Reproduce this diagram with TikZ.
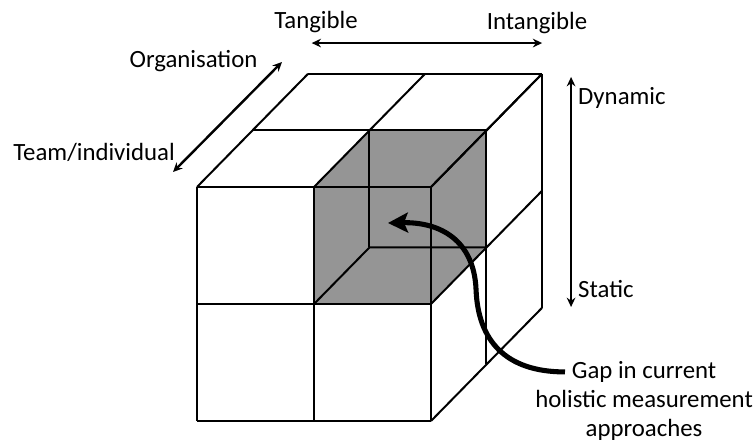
\documentclass[tikz,border=0pt]{standalone}
\usepackage{fontspec}
\setmainfont{Carlito}
\usetikzlibrary{positioning,arrows.meta}
\definecolor{hueco}{HTML}{959595}

\begin{document}
\begin{tikzpicture}[font=\fontsize{18.6}{21.8}\selectfont,
    x={(87.75pt,0pt)}, y={(0pt,87.75pt)}, z={(41.6pt,42.4pt)},
    edge/.style={line width=1.5pt, line join=round},
    axis/.style={line width=1.8pt, {Stealth[length=7pt,width=6.5pt]}-{Stealth[length=7pt,width=6.5pt]}},
    gaparrow/.style={line width=3.8pt, -{Stealth[length=15pt,width=15pt,inset=3pt]}}]
    \useasboundingbox (-1.684,-0.188) rectangle (4.769,3.598);
    % shaded cell (front, top, right)
    \fill[hueco] (1,1,0) -- (1,2,0) -- (1,2,1) -- (2,2,1) -- (2,1,1) -- (2,1,0) -- cycle;
    % 2x2x2 grid
    \foreach \i in {0,1,2} {
      \draw[edge] (\i,0,0) -- (\i,2,0);
      \draw[edge] (0,\i,0) -- (2,\i,0);
      \draw[edge] (0,2,\i) -- (2,2,\i);
      \draw[edge] (\i,2,0) -- (\i,2,2);
      \draw[edge] (2,\i,0) -- (2,\i,2);
      \draw[edge] (2,0,\i) -- (2,2,\i);
    }
    % hidden edges of the shaded cell
    \draw[edge] (1,1,0) -- (1,1,1) -- (2,1,1);
    \draw[edge] (1,1,1) -- (1,2,1);
    % axes
    \coordinate (tan) at (0.98,3.23);
    \coordinate (intan) at (2.95,3.23);
    \coordinate (team) at (-0.205,2.128);
    \coordinate (org) at (0.726,3.068);
    \coordinate (dyn) at (3.197,2.94);
    \coordinate (sta) at (3.197,0.974);
    \draw[axis] (tan) -- (intan);
    \draw[axis] (team) -- (org);
    \draw[axis] (dyn) -- (sta);
    \node (tangible) at (1.017,3.41) {Tangible};
    \node (intangible) at (2.906,3.40) {Intangible};
    \node (organisation) at (-0.03,3.077) {Organisation};
    \node (teamind) at (-0.88,2.299) {Team/individual};
    \node[anchor=west, inner sep=0pt] (dynamic) at (3.256,2.761) {Dynamic};
    \node[anchor=west, inner sep=0pt] (static) at (3.256,1.128) {Static};
    % gap
    \node[align=center, inner sep=0pt] (gap) at (3.821,0.171)
      {Gap in current\\holistic measurement\\approaches};
    \coordinate (gapstart) at (3.145,0.419);
    \coordinate (hole) at (1.632,1.692);
    \draw[gaparrow] (gapstart) .. controls (2.632,0.419) and (2.402,0.692) .. (2.385,1.12)
      .. controls (2.368,1.547) and (2.077,1.701) .. (hole);
\end{tikzpicture}
\end{document}
